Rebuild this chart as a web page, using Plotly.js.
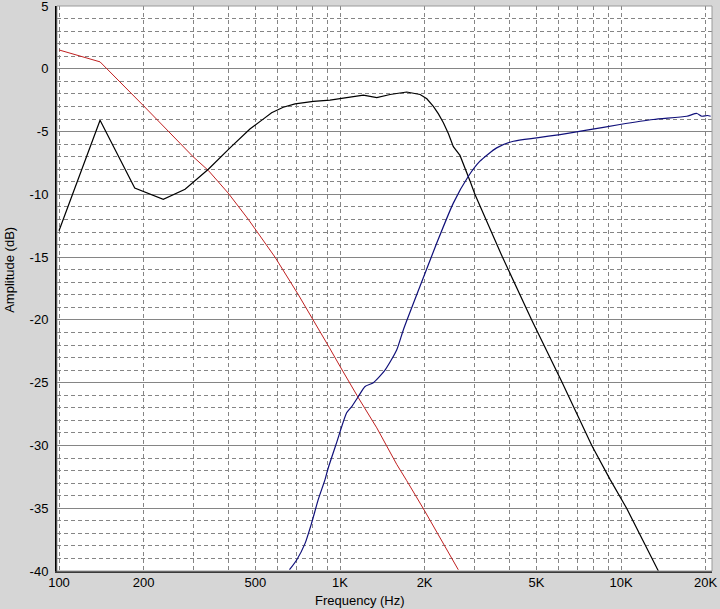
<!DOCTYPE html>
<html>
<head>
<meta charset="utf-8">
<script src="https://cdn.plot.ly/plotly-3.0.1.min.js"></script>
<style>
html,body{margin:0;padding:0;background:#d6d6d6;}
#chart{width:720px;height:609px;}
</style>
</head>
<body>
<div id="chart"></div>
<script>
// Red curve (low-pass)
var freqRed = [100,140,200,250,300,340,400,472,526,587,711,804,916,1000,1162,1352,1591,1727,2000,2636];
var ampRed  = [1.5,0.55,-2.95,-5.2,-7.0,-8.1,-9.9,-12.0,-13.5,-15.0,-18.0,-20.0,-22.2,-23.7,-26.2,-28.6,-31.5,-32.8,-35.2,-39.9];

// Black curve (mid)
var freqBlack = [100,140,186,235,281,340,406,478,530,571,628,692,804,921,1211,1352,1507,1727,1928,2037,2149,2240,2333,2432,2531,2673,2904,3020,3785,4810,6150,7870,9140,10470,13580];
var ampBlack  = [-12.9,-4.1,-9.5,-10.4,-9.6,-8.0,-6.3,-4.8,-4.05,-3.5,-3.06,-2.8,-2.6,-2.5,-2.1,-2.3,-2.05,-1.85,-2.05,-2.39,-3.0,-3.59,-4.3,-5.18,-6.2,-6.9,-8.96,-10.0,-15.0,-20.0,-24.9,-30.0,-32.7,-35.0,-40.0];

// Blue curve (high-pass)
var freqBlue = [661,702,751,792,837,885,908,972,1056,1101,1162,1228,1314,1446,1591,1680,1928,2208,2531,2863,3148,3610,4141,5014,6070,7550,9910,13030,17140,18620,19380,20300,20850];
var ampBlue  = [-39.9,-39.1,-37.8,-36.2,-34.3,-32.7,-31.8,-29.8,-27.4,-26.9,-26.1,-25.3,-25.0,-24.0,-22.4,-20.8,-17.3,-13.9,-10.7,-8.56,-7.36,-6.3,-5.77,-5.5,-5.24,-4.89,-4.44,-4.04,-3.78,-3.56,-3.78,-3.72,-3.78];

// Axis ticks
var xTickVals = [100,200,300,400,500,600,700,800,900,1000,2000,3000,4000,5000,6000,7000,8000,9000,10000,20000];
var xTickText = ['100','200','','','500','','','','','1K','2K','','','5K','','','','','10K','20K'];
var yTickVals = [5,0,-5,-10,-15,-20,-25,-30,-35,-40];
var yTickText = ['5','0','-5','-10','-15','-20','-25','-30','-35','-40'];

var font = 'Liberation Sans, Arial, sans-serif';

var traces = [
  {x: freqRed, y: ampRed, type: 'scatter', mode: 'lines', line: {color: '#c02020', width: 1}, hoverinfo: 'none'},
  {x: freqBlack, y: ampBlack, type: 'scatter', mode: 'lines', line: {color: '#000000', width: 1.2}, hoverinfo: 'none'},
  {x: freqBlue, y: ampBlue, type: 'scatter', mode: 'lines', line: {color: '#10107a', width: 1.2, shape: 'spline', smoothing: 0.6}, hoverinfo: 'none'}
];

var layout = {
  width: 720, height: 609,
  margin: {l: 57, r: 8, t: 6, b: 38},
  paper_bgcolor: '#d6d6d6',
  plot_bgcolor: '#ffffff',
  showlegend: false,
  font: {family: font, size: 13, color: '#000'},
  xaxis: {
    type: 'log',
    range: [1.9929, 4.3238],
    tickmode: 'array', tickvals: xTickVals, ticktext: xTickText,
    showgrid: true, gridcolor: '#858585', gridwidth: 1, griddash: '4px,3px',
    ticks: '', showline: true, linecolor: '#3a3a3a', linewidth: 2,
    zeroline: false, tickfont: {family: font, size: 13, color: '#000'},
    ticklabelstandoff: -2
  },
  yaxis: {
    range: [-40, 5],
    tickmode: 'array', tickvals: yTickVals, ticktext: yTickText,
    showgrid: true, gridcolor: '#858585', gridwidth: 1,
    minor: {dtick: 1, showgrid: true, gridcolor: '#858585', gridwidth: 1, griddash: '4px,3px', ticks: ''},
    ticks: '', showline: true, linecolor: '#000', linewidth: 2,
    zeroline: false, tickfont: {family: font, size: 13, color: '#000'},
    ticklabelstandoff: 4, ticklabeloverflow: 'allow'
  },
  shapes: [
    {type: 'rect', xref: 'paper', yref: 'paper', x0: 0, x1: 1, y0: 0, y1: 1,
     line: {color: '#9a9a9a', width: 1}, layer: 'above'}
  ],
  annotations: [
    {text: 'Frequency (Hz)', xref: 'paper', yref: 'paper', x: 0.4626, y: -0.053,
     xanchor: 'center', yanchor: 'middle', showarrow: false, font: {family: font, size: 13, color: '#000'}},
    {text: 'Amplitude (dB)', xref: 'paper', yref: 'paper', x: -0.0718, y: 0.533, textangle: -90,
     xanchor: 'center', yanchor: 'middle', showarrow: false, font: {family: font, size: 13, color: '#000'}}
  ]
};

Plotly.newPlot('chart', traces, layout, {displayModeBar: false, staticPlot: true});
</script>
</body>
</html>
